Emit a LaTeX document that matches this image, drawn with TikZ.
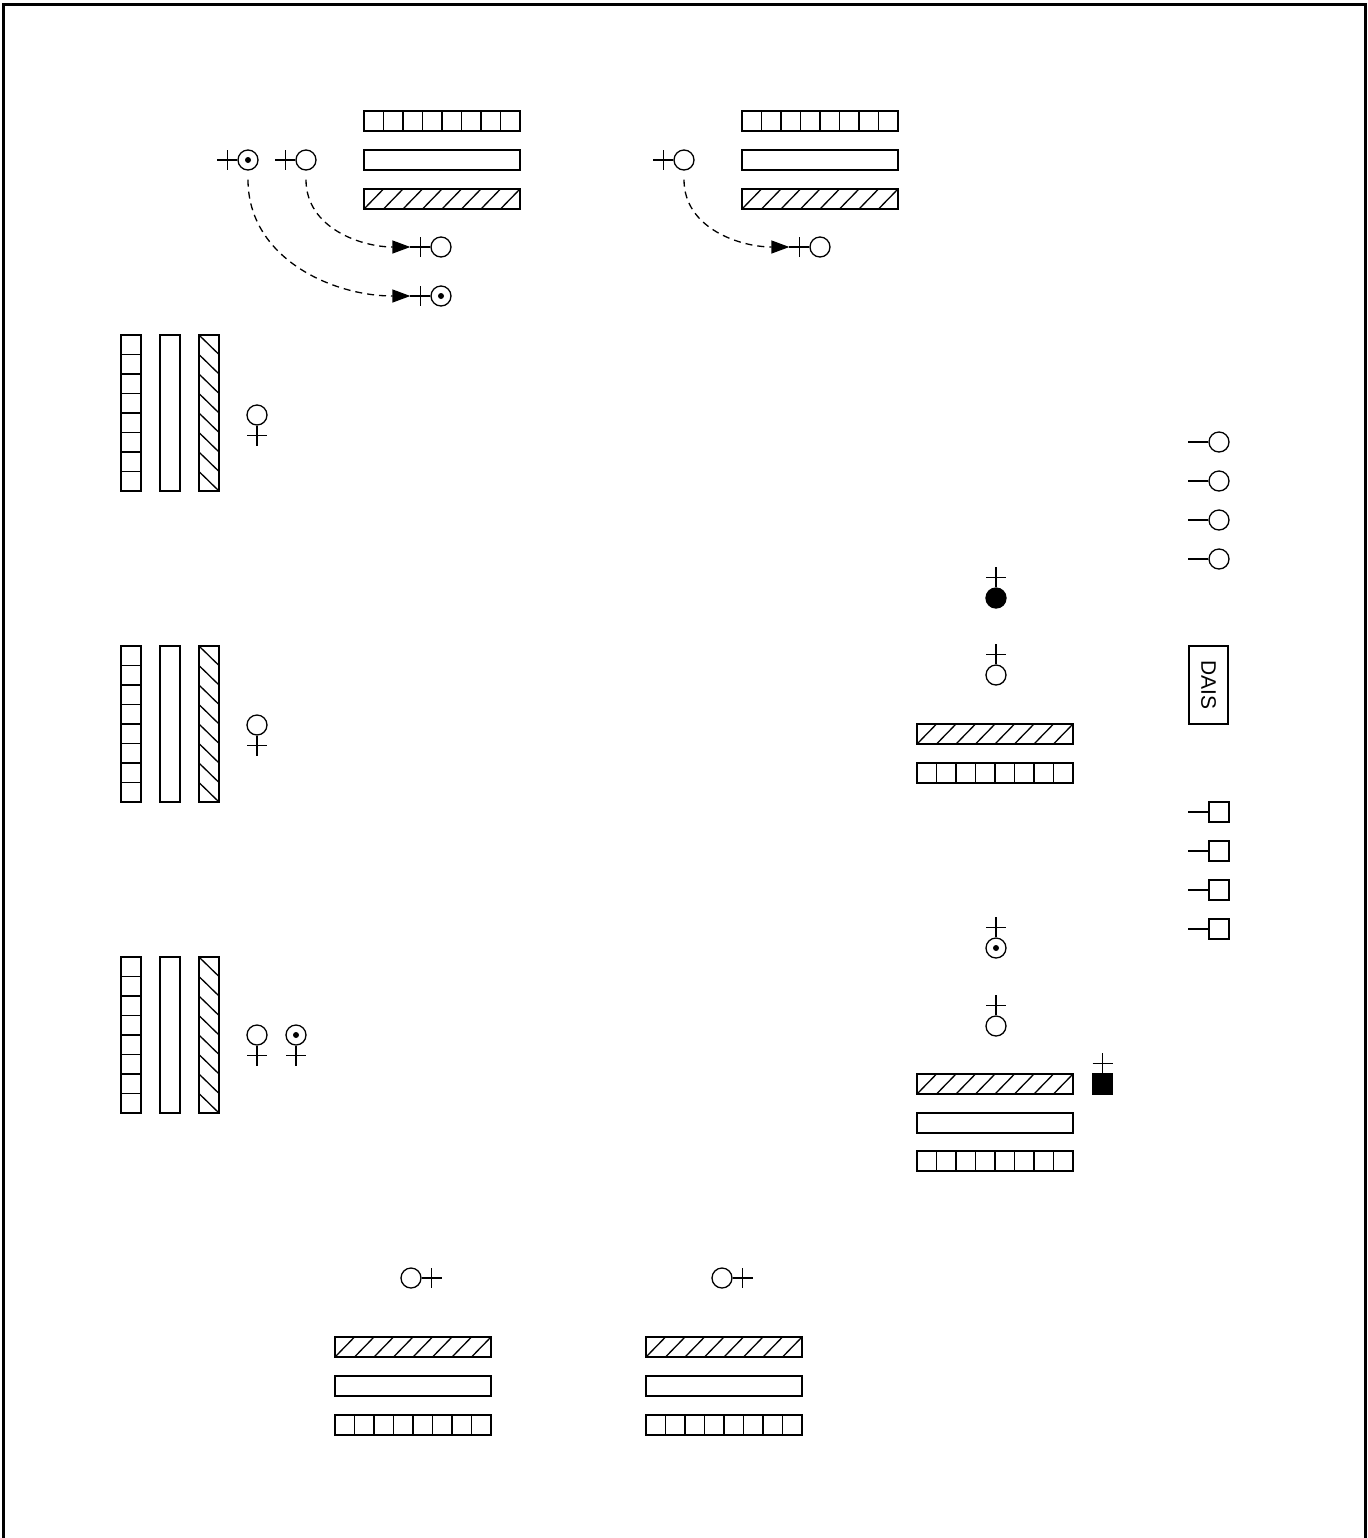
\documentclass[tikz,border=0pt]{standalone}
\usepackage{fontspec}
\setsansfont{Liberation Sans}
\usetikzlibrary{arrows.meta}

\begin{document}
\begin{tikzpicture}[x=0.5pt,y=-0.5pt,line width=0.65pt,
ring/.style={circle,draw,minimum size=10pt,inner sep=0pt},
ringdot/.style={ring,path picture={\fill (path picture bounding box.center) circle (1.5pt);}},
blob/.style={ring,fill=black},
seat/.style={rectangle,draw,minimum size=10pt,inner sep=0pt},
moveline/.style={dash pattern=on 3.5pt off 2.5pt,-{Triangle[length=9pt,width=6.5pt]}},
gridh/.pic={\draw (0,0) rectangle (156,20); \foreach \i in {1,...,7} \draw (\i*19.5,0)--(\i*19.5,20);},
plainh/.pic={\draw (0,0) rectangle (156,20);},
hatchh/.pic={\draw (0,0) rectangle (156,20); \foreach \i in {0,...,7} \draw (\i*19.5,20)--(\i*19.5+19.5,0);},
gridv/.pic={\draw (0,0) rectangle (20,156); \foreach \i in {1,...,7} \draw (0,\i*19.5)--(20,\i*19.5);},
plainv/.pic={\draw (0,0) rectangle (20,156);},
hatchv/.pic={\draw (0,0) rectangle (20,156); \foreach \i in {0,...,7} \draw (0,\i*19.5)--(20,\i*19.5+19.5);}]
\useasboundingbox (0,0) rectangle (1367,1538);
\draw[line width=1.5pt] (3,1540)--(3,4)--(1365,4)--(1365,1540);
\pic at (364,111) {gridh};
\pic at (364,150) {plainh};
\pic at (364,189) {hatchh};
\node[ringdot] (pairA) at (248,160) {};
\draw (pairA.west) -- ++(-20,0) ++(10,-10) -- ++(0,20);
\node[ring] (pairB) at (306,160) {};
\draw (pairB.west) -- ++(-20,0) ++(10,-10) -- ++(0,20);
\node[ring] (pairB2) at (441,247) {};
\draw (pairB2.west) -- ++(-20,0) coordinate (pairB2in) ++(10,-10) -- ++(0,20);
\node[ringdot] (pairA2) at (441,296) {};
\draw (pairA2.west) -- ++(-20,0) coordinate (pairA2in) ++(10,-10) -- ++(0,20);
\draw[moveline] ([yshift=-4.5pt]pairA.south) to[out=-90,in=180] (pairA2in);
\draw[moveline] ([yshift=-4.5pt]pairB.south) to[out=-90,in=180] (pairB2in);
\pic at (742,111) {gridh};
\pic at (742,150) {plainh};
\pic at (742,189) {hatchh};
\node[ring] (pairC) at (684,160) {};
\draw (pairC.west) -- ++(-20,0) ++(10,-10) -- ++(0,20);
\node[ring] (pairC2) at (820,247) {};
\draw (pairC2.west) -- ++(-20,0) coordinate (pairC2in) ++(10,-10) -- ++(0,20);
\draw[moveline] ([yshift=-4.5pt]pairC.south) to[out=-90,in=180] (pairC2in);
\foreach \y in {335,646,957} {
  \pic at (121,\y) {gridv};
  \pic at (160,\y) {plainv};
  \pic at (199,\y) {hatchv};
}
\node[ring] (sideA) at (257,415) {};
\draw (sideA.south) -- ++(0,20) ++(-10,-10) -- ++(20,0);
\node[ring] (sideB) at (257,725) {};
\draw (sideB.south) -- ++(0,20) ++(-10,-10) -- ++(20,0);
\node[ring] (sideC) at (257,1035) {};
\draw (sideC.south) -- ++(0,20) ++(-10,-10) -- ++(20,0);
\node[ringdot] (sideD) at (296,1035) {};
\draw (sideD.south) -- ++(0,20) ++(-10,-10) -- ++(20,0);
\foreach \y [count=\k] in {442,481,520,559} {
  \node[ring] (usherO\k) at (1219,\y) {};
  \draw (usherO\k.west) -- ++(-20,0);
}
\foreach \y [count=\k] in {812,851,890,929} {
  \node[seat] (usherS\k) at (1219,\y) {};
  \draw (usherS\k.west) -- ++(-20,0);
}
\node[draw,rotate=-90,minimum width=39pt,minimum height=19.5pt,inner sep=0pt,font=\sffamily\fontsize{10.5}{12}\selectfont] (dais) at (1208.5,685) {DAIS};
\node[blob] (hostA) at (996,598) {};
\draw (hostA.north) -- ++(0,-20) ++(-10,10) -- ++(20,0);
\node[ring] (hostB) at (996,675) {};
\draw (hostB.north) -- ++(0,-20) ++(-10,10) -- ++(20,0);
\pic at (917,724) {hatchh};
\pic at (917,763) {gridh};
\node[ringdot] (hostC) at (996,948) {};
\draw (hostC.north) -- ++(0,-20) ++(-10,10) -- ++(20,0);
\node[ring] (hostD) at (996,1026) {};
\draw (hostD.north) -- ++(0,-20) ++(-10,10) -- ++(20,0);
\node[seat,fill=black] (hostE) at (1102.5,1084) {};
\draw (hostE.north) -- ++(0,-20) ++(-10,10) -- ++(20,0);
\pic at (917,1074) {hatchh};
\pic at (917,1113) {plainh};
\pic at (917,1151) {gridh};
\node[ring] (rowA) at (411,1278) {};
\draw (rowA.east) -- ++(20,0) ++(-10,-10) -- ++(0,20);
\node[ring] (rowB) at (722,1278) {};
\draw (rowB.east) -- ++(20,0) ++(-10,-10) -- ++(0,20);
\pic at (335,1337) {hatchh};
\pic at (335,1376) {plainh};
\pic at (335,1415) {gridh};
\pic at (646,1337) {hatchh};
\pic at (646,1376) {plainh};
\pic at (646,1415) {gridh};
\end{tikzpicture}
\end{document}
